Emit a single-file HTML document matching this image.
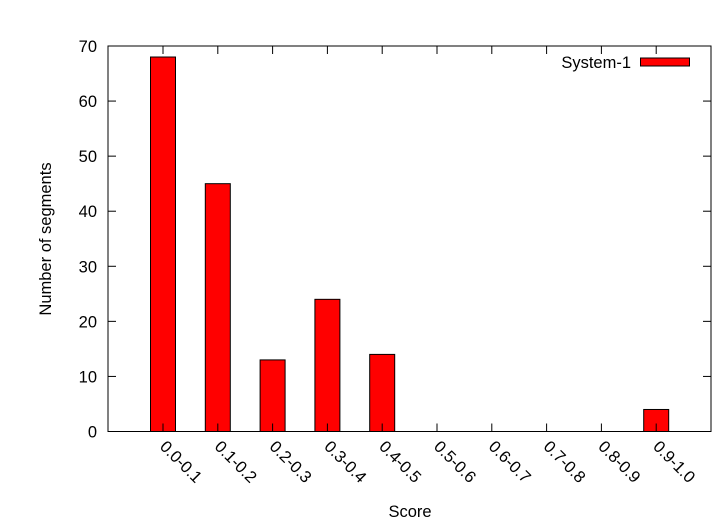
<!DOCTYPE html>
<html><head><meta charset="utf-8"><style>body{margin:0;background:#fff}svg{display:block;font-family:"Liberation Sans",Arial,sans-serif}</style></head>
<body>
<svg id="c" width="716" height="522"></svg>
<script>
const categories=["0.0-0.1","0.1-0.2","0.2-0.3","0.3-0.4","0.4-0.5","0.5-0.6","0.6-0.7","0.7-0.8","0.8-0.9","0.9-1.0"];
const values=[68,45,13,24,14,0,0,0,0,4];
const yTicks=[0,10,20,30,40,50,60,70];
const L=108,R=711,T=46,B=431.5;
const FS=16.5;
const y=v=>B-(v/70)*(B-T);
const x=i=>163+54.8*i;
const svg=document.getElementById('c');
const NS='http://www.w3.org/2000/svg';
function mk(t,a,txt){const e=document.createElementNS(NS,t);for(const k in a)e.setAttribute(k,a[k]);if(txt!=null)e.textContent=txt;svg.appendChild(e);return e;}
values.forEach((v,i)=>{if(v<=0)return;const e=mk('rect',{x:x(i)-12.5,y:y(v),width:25,height:B-y(v),fill:'#f00',stroke:'#000','stroke-width':1});

});
yTicks.forEach(t=>{mk('line',{x1:L,x2:L+8,y1:y(t),y2:y(t),stroke:'#000'});mk('line',{x1:R,x2:R-8,y1:y(t),y2:y(t),stroke:'#000'});
const e=mk('text',{x:L-11,y:y(t)+6,'text-anchor':'end','font-size':FS},t);

});
categories.forEach((c,i)=>{mk('line',{x1:x(i),x2:x(i),y1:B,y2:B-8,stroke:'#000'});mk('line',{x1:x(i),x2:x(i),y1:T,y2:T+8,stroke:'#000'});
const e=mk('text',{x:x(i)-4,y:B+16,'font-size':FS,transform:`rotate(45 ${x(i)-4} ${B+16})`},c);

});
const f=mk('rect',{x:L,y:T,width:R-L,height:B-T,fill:'none',stroke:'#000','stroke-width':1});


const yt=mk('text',{x:51,y:239,'text-anchor':'middle','font-size':FS,transform:'rotate(-90 51 239)'},'Number of segments');


const xt=mk('text',{x:410,y:517,'text-anchor':'middle','font-size':FS},'Score');


const lt=mk('text',{x:631,y:68,'text-anchor':'end','font-size':FS},'System-1');


const ls=mk('rect',{x:640.5,y:58,width:49,height:8,fill:'#f00',stroke:'#000'});


</script>
</body></html>
